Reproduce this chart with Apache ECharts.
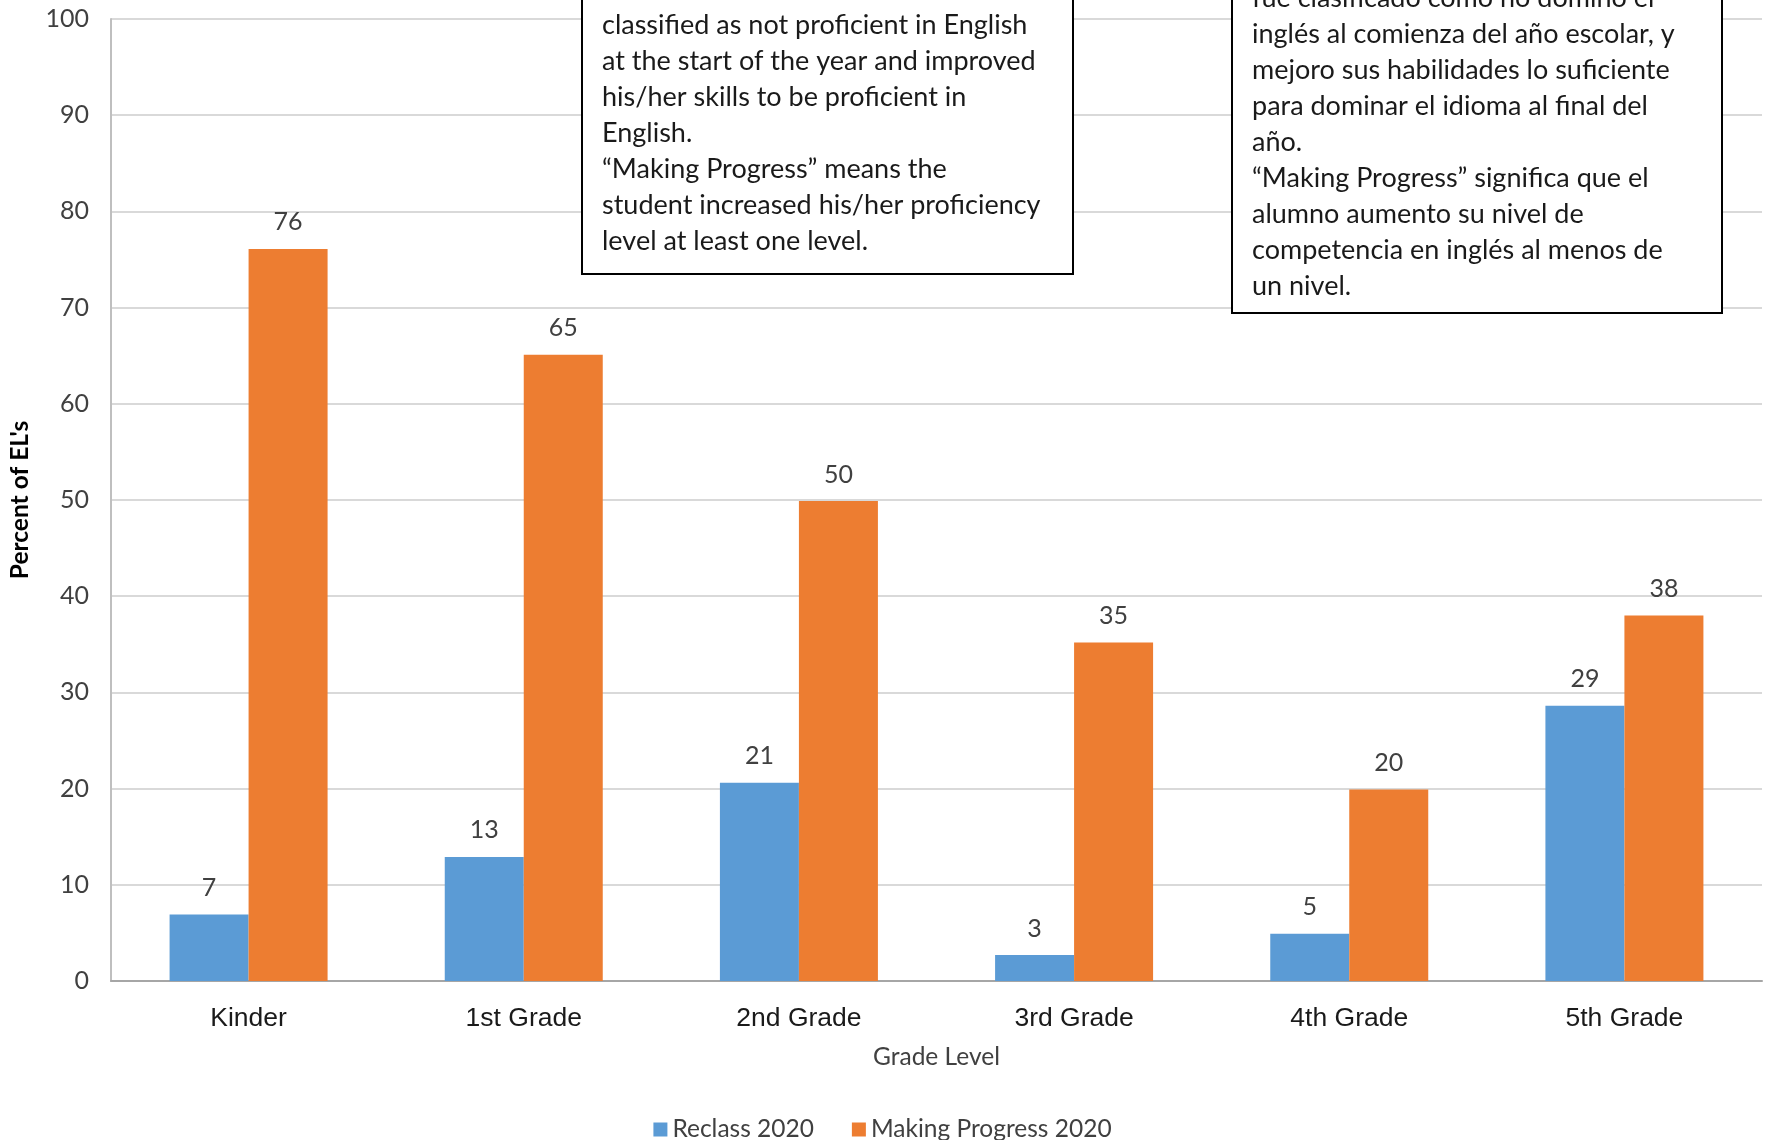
<!DOCTYPE html>
<html>
<head>
<meta charset="utf-8">
<script src="https://cdn.jsdelivr.net/npm/echarts@6/dist/echarts.min.js"></script>
<style>
html,body{margin:0;padding:0;background:#fff;}
#chart{width:1765px;height:1140px;}
</style>
</head>
<body>
<div id="chart"></div>
<script>
const categories = ['Kinder', '1st Grade', '2nd Grade', '3rd Grade', '4th Grade', '5th Grade'];
const reclass2020 = [6.9, 12.9, 20.6, 2.7, 4.9, 28.6];
const progress2020 = [76.1, 65.1, 49.9, 35.2, 19.9, 38.0];
const seriesNames = ['Reclass 2020', 'Making Progress 2020'];
const yTicks = [0, 10, 20, 30, 40, 50, 60, 70, 80, 90, 100];
const noteEnglish = [
  'classified as not proficient in English',
  'at the start of the year and improved',
  'his/her skills to be proficient in',
  'English.',
  '\u201CMaking Progress\u201D means the',
  'student increased his/her proficiency',
  'level at least one level.'
];
const noteSpanish = [
  'fue clasificado como no domino el',
  'ingl\u00E9s al comienza del a\u00F1o escolar, y',
  'mejoro sus habilidades lo suficiente',
  'para dominar el idioma al final del',
  'a\u00F1o.',
  '\u201CMaking Progress\u201D significa que el',
  'alumno aumento su nivel de',
  'competencia en ingl\u00E9s al menos de',
  'un nivel.'
];

const FONT = 'Lato';
const chart = echarts.init(document.getElementById('chart'));
const labelCfg = {
  show: true, position: 'top', distance: 14,
  fontFamily: FONT, fontSize: 25, color: '#404040',
  formatter: p => Math.round(p.value)
};
chart.setOption({
  backgroundColor: '#ffffff',
  animation: false,
  grid: {left: 110, right: 3, top: 19, bottom: 159, containLabel: false},
  legend: {
    data: seriesNames, left: 'center', top: 1112,
    icon: 'rect', itemWidth: 14, itemHeight: 14, itemGap: 38,
    textStyle: {fontFamily: FONT, fontSize: 24.5, color: '#404040'}
  },
  xAxis: {
    type: 'category', data: categories,
    name: 'Grade Level', nameLocation: 'middle', nameGap: 64,
    nameTextStyle: {fontFamily: FONT, fontSize: 24.5, color: '#404040'},
    axisLine: {lineStyle: {color: '#a6a6a6', width: 2}},
    axisTick: {show: false},
    axisLabel: {fontFamily: 'Liberation Sans', fontSize: 26.5, color: '#1a1a1a', margin: 24}
  },
  yAxis: {
    type: 'value', min: 0, max: 100, interval: 10,
    name: "Percent of EL's", nameLocation: 'middle', nameGap: 78, nameRotate: 90,
    nameTextStyle: {fontFamily: FONT, fontSize: 24.5, fontWeight: 'bold', color: '#000'},
    axisLine: {show: true, lineStyle: {color: '#bfbfbf', width: 2}},
    axisTick: {show: false},
    splitLine: {lineStyle: {color: '#d9d9d9', width: 2}},
    axisLabel: {fontFamily: FONT, fontSize: 25, color: '#404040', margin: 22,
      formatter: v => yTicks.indexOf(v) >= 0 ? String(v) : ''}
  },
  series: [
    {name: seriesNames[0], type: 'bar', data: reclass2020, barWidth: 79, barGap: '0%',
     itemStyle: {color: '#5B9BD5'}, label: labelCfg},
    {name: seriesNames[1], type: 'bar', data: progress2020, barWidth: 79, barGap: '0%',
     itemStyle: {color: '#ED7D31'}, label: labelCfg}
  ],
  graphic: [
    {type: 'rect', z: 100, shape: {x: 582, y: -200, width: 491, height: 474},
     style: {fill: '#fff', stroke: '#000', lineWidth: 2}},
    {type: 'text', z: 101, x: 602, y: 7,
     style: {text: noteEnglish.join('\n'), fontFamily: FONT, fontSize: 27, lineHeight: 36,
             fill: '#1a1a1a', verticalAlign: 'top', align: 'left'}},
    {type: 'rect', z: 100, shape: {x: 1232, y: -200, width: 490, height: 513},
     style: {fill: '#fff', stroke: '#000', lineWidth: 2}},
    {type: 'text', z: 101, x: 1252, y: -20,
     style: {text: noteSpanish.join('\n'), fontFamily: FONT, fontSize: 27, lineHeight: 36,
             fill: '#1a1a1a', verticalAlign: 'top', align: 'left'}}
  ]
});
</script>
</body>
</html>
